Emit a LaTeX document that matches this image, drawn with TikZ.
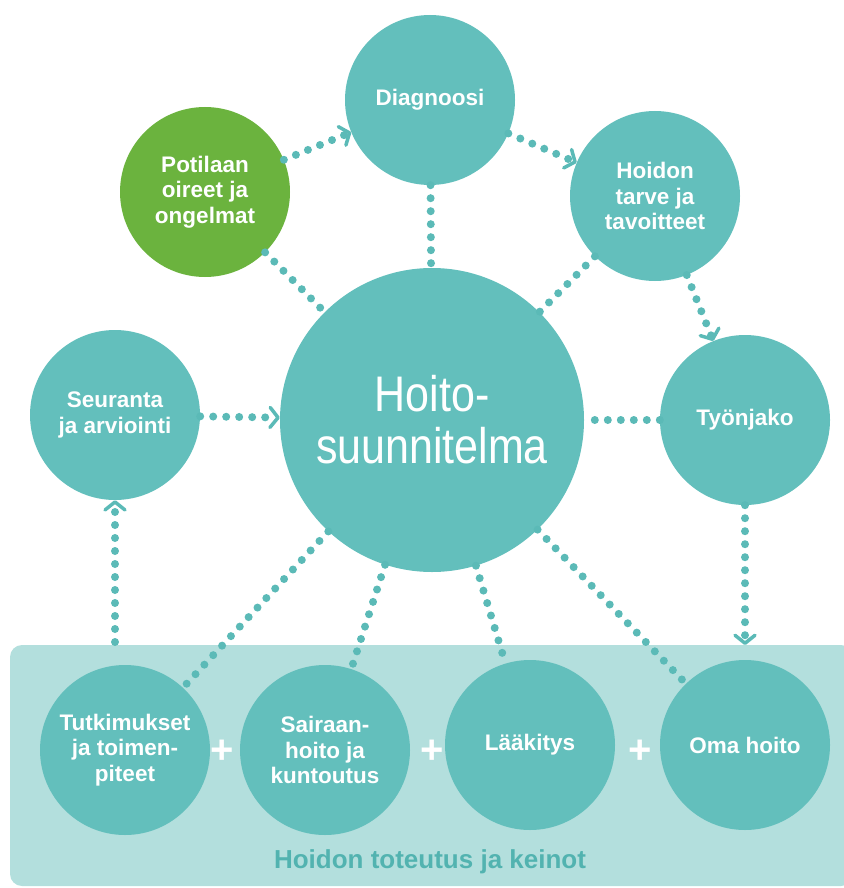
\documentclass[tikz,border=0pt]{standalone}
\usepackage{fontspec}
\setmainfont{Liberation Sans}
\newfontfamily\bigfont{Liberation Sans}[FakeStretch=0.86]
\usetikzlibrary{arrows.meta}
\definecolor{teal1}{HTML}{63BFBC}
\definecolor{tealdot}{HTML}{5BBAB7}
\definecolor{lightteal}{HTML}{B3DFDD}
\definecolor{green1}{HTML}{6BB33E}
\definecolor{labelteal}{HTML}{52B3B0}
\tikzset{
  bubble/.style={circle, minimum size=170pt, inner sep=0pt, fill=teal1, text=white,
    align=center, font=\bfseries\fontsize{22.5}{25.5}\selectfont},
  dotline/.style={draw=tealdot, line width=8pt, line cap=round, dash pattern=on 0pt off 13pt},
  arr/.style={-{Straight Barb[length=8pt,width=20pt,line width=3.5pt,round]}},
  plus/.style={text=white, font=\bfseries\fontsize{40}{40}\selectfont, inner sep=0pt}
}
\begin{document}
\begin{tikzpicture}[x=1pt,y=-1pt]
\useasboundingbox (0,0) rectangle (843,888);
\fill[lightteal, rounded corners=12pt] (10,645) rectangle (853,886);
\node[bubble] (diag) at (430,100) {Diagnoosi};
\node[bubble, fill=green1] (pot) at (205,192) {Potilaan\\oireet ja\\ongelmat};
\node[bubble] (tarve) at (655,196) {Hoidon\\tarve ja\\tavoitteet};
\node[bubble, minimum size=304pt, font=\bigfont\fontsize{50}{52}\selectfont] (hs) at (432,420) {Hoito-\\suunnitelma};
\node[bubble] (seur) at (115,415) {Seuranta\\ja arviointi};
\node[bubble] (tyo) at (745,420) {Työnjako};
\node[bubble] (tut) at (125,750) {Tutkimukset\\ja toimen-\\piteet};
\node[bubble] (sai) at (325,750) {Sairaan-\\hoito ja\\kuntoutus};
\node[bubble] (laa) at (530,745) {Lääkitys};
\node[bubble] (oma) at (745,745) {Oma hoito};
\node[plus] (p1) at (222,752) {+};
\node[plus] (p2) at (432,752) {+};
\node[plus] (p3) at (640,752) {+};
\node[text=labelteal, font=\bfseries\fontsize{26}{28}\selectfont] (lab) at (430,862) {Hoidon toteutus ja keinot};
\coordinate (seurin) at (115,642);
\coordinate (omain) at (745,645);
% connectors with arrows
\draw[dotline, arr] (pot) -- (diag);
\draw[dotline, arr] (diag) -- (tarve);
\draw[dotline, arr] (tarve) -- (tyo);
\draw[dotline, arr] (seur) -- (hs);
\draw[dotline, arr] (seurin) -- (seur);
\draw[dotline, arr] (tyo) -- (omain);
% plain dotted connectors
\draw[dotline] (diag) -- (hs);
\draw[dotline] (pot) -- (hs);
\draw[dotline] (tarve) -- (hs);
\draw[dotline] (tyo) -- (hs);
\draw[dotline] (hs) -- (tut);
\draw[dotline] (hs) -- (sai);
\draw[dotline] (hs) -- (laa);
\draw[dotline] (hs) -- (oma);
\end{tikzpicture}
\end{document}
